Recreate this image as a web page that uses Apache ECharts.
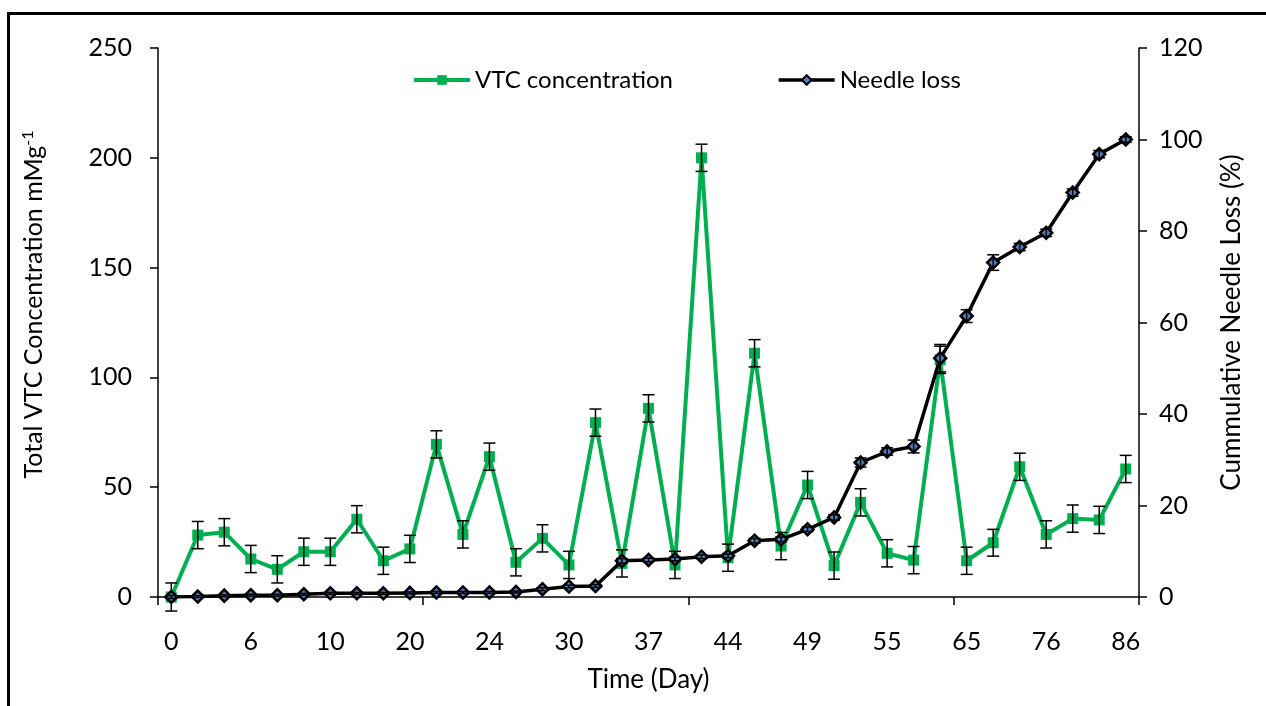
<!DOCTYPE html>
<html>
<head>
<meta charset="utf-8">
<script src="https://cdn.jsdelivr.net/npm/echarts@6/dist/echarts.min.js"></script>
<style>
html,body{margin:0;padding:0;background:#fff;}
#chart{width:1266px;height:706px;}
</style>
</head>
<body>
<div id="chart"></div>
<script>
const days = ['0','2','4','6','7','8','10','13','16','20','21','22','24','26','28','30','32','35','37','39','41','44','46','48','49','51','53','55','58','62','65','69','72','76','79','83','86'];
const vtc = [0,28.2,29.5,17.3,12.6,20.6,20.6,35.4,16.5,21.9,69.5,28.5,63.9,15.8,26.7,14.6,79.4,15.3,85.9,14.6,200,17.9,111,23.2,51,14.3,43.1,19.9,16.8,108,16.5,24.7,59.3,28.5,35.7,35.1,58.3];
const vtcErr = [6.4,6.2,6.2,6.2,6.2,6.2,6.2,6.2,6.2,6.2,6.2,6.2,6.2,6.2,6.2,6.2,6.2,6.2,6.2,6.2,6.2,6.2,6.2,6.2,6.2,6.2,6.2,6.2,6.2,6.2,6.2,6.1,6.2,6.2,6.2,6.2,6.2];
const needle = [0,0.1,0.3,0.4,0.4,0.6,0.8,0.8,0.8,0.9,1.0,1.0,1.0,1.1,1.7,2.3,2.4,7.9,8.1,8.3,8.8,9.0,12.3,12.6,14.8,17.4,29.4,31.8,32.9,52.2,61.4,73.1,76.5,79.6,88.4,96.8,100];
const needleErr = [0.3,0.2,0.2,0.2,0.2,0.2,0.2,0.2,0.2,0.2,0.2,0.2,0.2,0.2,0.3,0.3,0.3,0.5,0.4,0.4,0.4,0.4,0.5,0.5,0.5,0.6,1.0,0.8,1.4,3.0,1.4,1.7,0.8,0.8,0.8,0.8,0.6];
const leftTicks = {min:0, max:250, interval:50};
const rightTicks = {min:0, max:120, interval:20};

const FONT = 'Lato';
const GREEN = '#00B050';

function errData(vals, errs){
  return vals.map((v,i)=>[i, v-errs[i], v+errs[i]]);
}
function errRender(params, api){
  const i = api.value(0);
  const lo = api.coord([i, api.value(1)]);
  const hi = api.coord([i, api.value(2)]);
  const w = 6;
  const st = {stroke:'#000', lineWidth:1.5, fill:null};
  return {type:'group', children:[
    {type:'line', shape:{x1:lo[0], y1:lo[1], x2:hi[0], y2:hi[1]}, style:st},
    {type:'line', shape:{x1:lo[0]-w, y1:lo[1], x2:lo[0]+w, y2:lo[1]}, style:st},
    {type:'line', shape:{x1:hi[0]-w, y1:hi[1], x2:hi[0]+w, y2:hi[1]}, style:st}
  ]};
}

const chart = echarts.init(document.getElementById('chart'), null, {renderer:'canvas'});
chart.setOption({
  animation:false,
  backgroundColor:'#fff',
  textStyle:{fontFamily:FONT},
  graphic:[{type:'rect', shape:{x:8.5, y:13.5, width:1400, height:900}, style:{fill:null, stroke:'#000', lineWidth:3}, z:100}],
  legend:{
    top:63, left:407,
    itemGap:104, itemWidth:56, itemHeight:12,
    textStyle:{fontFamily:FONT, fontSize:24, color:'#000'},
    data:[
      {name:'VTC concentration', lineStyle:{width:4, color:GREEN}},
      {name:'Needle loss', lineStyle:{width:3.5, color:'#000'}}
    ]
  },
  grid:{left:158, right:127, top:48, bottom:109, containLabel:false},
  xAxis:{
    type:'category', data:days, boundaryGap:true,
    name:'Time (Day)', nameLocation:'middle', nameGap:70,
    nameTextStyle:{fontFamily:FONT, fontSize:26, color:'#000'},
    axisLine:{lineStyle:{color:'#000', width:1.5}},
    axisTick:{show:true, length:8, lineStyle:{color:'#000', width:1.5}, interval:(i)=> i%10===0 && i<37},
    axisLabel:{interval:(i)=> i%3===0, color:'#000', fontFamily:FONT, fontSize:25, margin:32},
    splitLine:{show:false}
  },
  yAxis:[
    {type:'value', min:leftTicks.min, max:leftTicks.max, interval:leftTicks.interval,
     name:'{a|Total VTC Concentration mMg}{s|-1}', nameLocation:'middle', nameGap:110, nameRotate:90,
     nameTextStyle:{fontFamily:FONT, fontSize:25, color:'#000', padding:[0,0,0,36],
       rich:{a:{fontFamily:FONT, fontSize:25, color:'#000'}, s:{fontFamily:FONT, fontSize:16, color:'#000', verticalAlign:'top', padding:[0,0,12,0]}}},
     axisLine:{show:true, lineStyle:{color:'#000', width:1.5}},
     axisTick:{show:true, length:8, lineStyle:{color:'#000', width:1.5}},
     axisLabel:{color:'#000', fontFamily:FONT, fontSize:25, margin:26},
     splitLine:{show:false}},
    {type:'value', min:rightTicks.min, max:rightTicks.max, interval:rightTicks.interval, position:'right',
     name:'Cummulative Needle Loss (%)', nameLocation:'middle', nameGap:80, nameRotate:90,
     nameTextStyle:{fontFamily:FONT, fontSize:26, color:'#000'},
     axisLine:{show:true, lineStyle:{color:'#000', width:1.5}},
     axisTick:{show:true, length:8, lineStyle:{color:'#000', width:1.5}},
     axisLabel:{color:'#000', fontFamily:FONT, fontSize:25, margin:20},
     splitLine:{show:false}}
  ],
  series:[
    {name:'VTC concentration', type:'line', yAxisIndex:0, data:vtc, z:2,
     symbol:'rect', symbolSize:11,
     lineStyle:{color:GREEN, width:4}, itemStyle:{color:GREEN, borderWidth:0}},
    {name:'vtcErr', type:'custom', yAxisIndex:0, data:errData(vtc, vtcErr), renderItem:errRender, z:3,
     encode:{x:0, y:[1,2]}},
    {name:'Needle loss', type:'line', yAxisIndex:1, data:needle, z:4,
     symbol:'diamond', symbolSize:[12,12],
     lineStyle:{color:'#000', width:3.5}, itemStyle:{color:'#4F81BD', borderColor:'#000', borderWidth:2.5}},
    {name:'needleErr', type:'custom', yAxisIndex:1, data:errData(needle, needleErr), renderItem:errRender, z:5,
     encode:{x:0, y:[1,2]}}
  ]
});
</script>
</body>
</html>
